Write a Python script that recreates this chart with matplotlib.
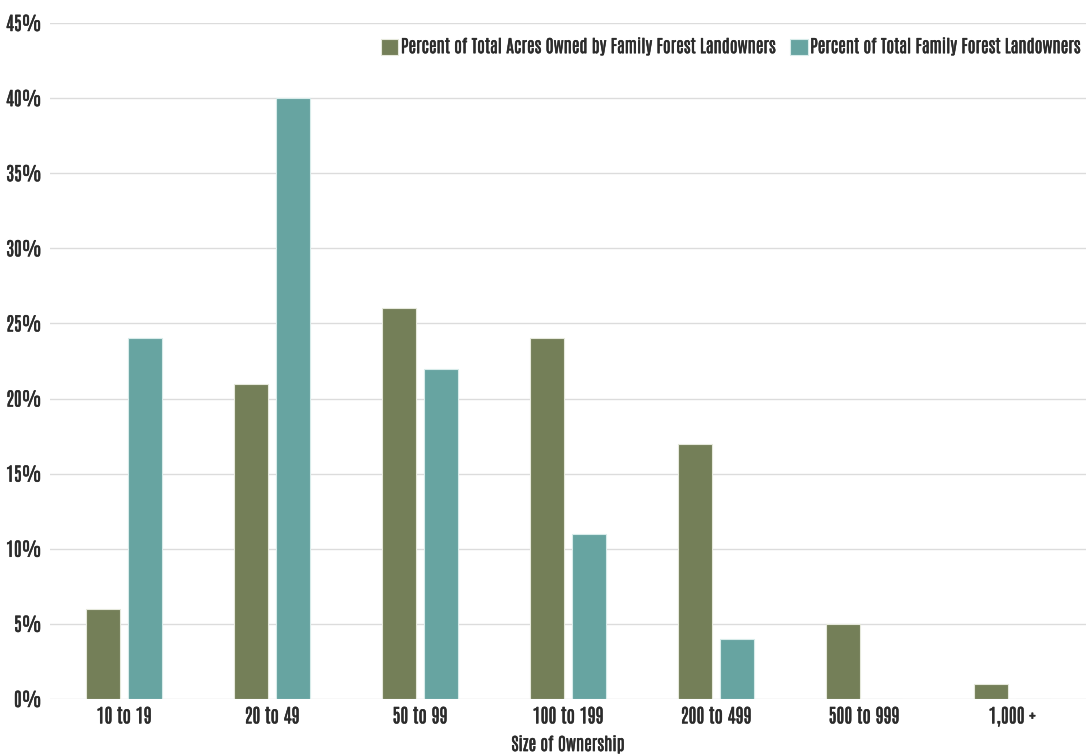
import matplotlib
matplotlib.use("Agg")
import matplotlib.pyplot as plt
import matplotlib.patheffects as pe
import numpy as np

categories = ["10 to 19", "20 to 49", "50 to 99", "100 to 199", "200 to 499", "500 to 999", "1,000 +"]
acres_pct = [6, 21, 26, 24, 17, 5, 1]
owners_pct = [24, 40, 22, 11, 4, 0, 0]
yticks = [0, 5, 10, 15, 20, 25, 30, 35, 40, 45]

plt.rcParams["font.family"] = ["Antonio", "Pathway Gothic One", "DejaVu Sans"]

green = "#747f58"
teal = "#67a4a1"
text_color = "#2b2b2b"
heavier = [pe.withStroke(linewidth=0.35, foreground=text_color)]

fig = plt.figure(figsize=(10.86, 7.54), dpi=100)
ax = fig.add_axes([50 / 1086, 1 - 699 / 754, 1036 / 1086, 676 / 754])

x = np.arange(len(categories))
w = 0.23
off = 0.142
ax.bar(x - off, acres_pct, w, color=green, edgecolor="#e6e9dc", linewidth=0.8,
       label="Percent of Total Acres Owned by Family Forest Landowners", zorder=3)
ax.bar(x + off, owners_pct, w, color=teal, edgecolor="#d8ecea", linewidth=0.8,
       label="Percent of Total Family Forest Landowners", zorder=3)

ax.set_xlim(-0.5, len(categories) - 0.5)
ax.set_ylim(0, 45)
ax.set_yticks(yticks)
ax.set_yticklabels([f"{t}%" for t in yticks])
ax.set_xticks(x)
ax.set_xticklabels(categories)
ax.yaxis.grid(True, color="#dcdcdc", linewidth=1.0, zorder=0)
ax.set_axisbelow(True)
for s in ax.spines.values():
    s.set_visible(False)
ax.tick_params(axis="both", length=0, colors=text_color)
ax.tick_params(axis="y", pad=6, labelsize=13.5)
ax.tick_params(axis="x", pad=6, labelsize=13.7)
ax.set_xlabel("Size of Ownership", fontsize=12.6, color=text_color, labelpad=7)

leg = ax.legend(loc="center right", bbox_to_anchor=(1.0, 0.965), ncol=2, frameon=False,
                fontsize=12.6, handlelength=1.0, handleheight=1.0, handletextpad=0.15,
                columnspacing=0.8, borderaxespad=0.0, borderpad=0.3)
for t in leg.get_texts():
    t.set_color(text_color)
    t.set_path_effects(heavier)

for t in ax.get_xticklabels() + ax.get_yticklabels() + [ax.xaxis.label]:
    t.set_path_effects(heavier)

fig.savefig("out.png", dpi=100)
